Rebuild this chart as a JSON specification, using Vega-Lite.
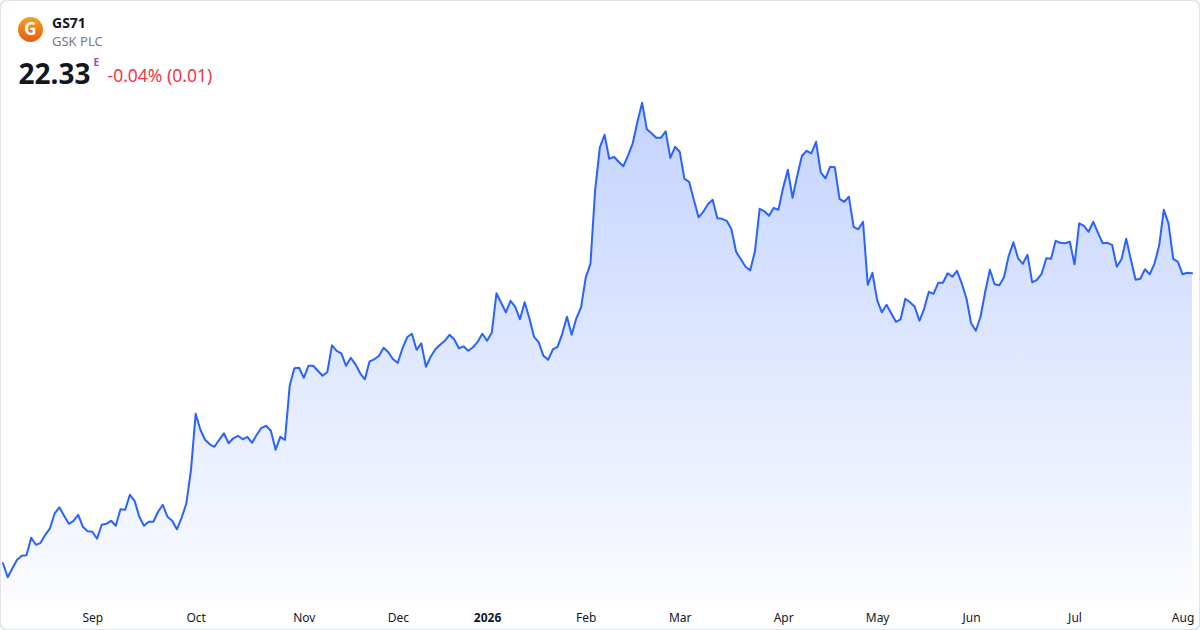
{
"$schema": "https://vega.github.io/schema/vega-lite/v6.json",
"width": 1200, "height": 630,
"autosize": {"type": "none"},
"padding": 0,
"background": "#ffffff",
"config": {"view": {"stroke": "#e0e3eb", "strokeWidth": 2, "cornerRadius": 8}, "font": "Noto Sans"},
"title": {"text": "GS71", "subtitle": "GSK PLC", "anchor": "start", "frame": "group", "orient": "top", "offset": -49, "dx": 52,
  "font": "Noto Sans", "fontSize": 14, "fontWeight": "bold", "color": "#131722",
  "subtitleFont": "Noto Sans", "subtitleFontSize": 13, "subtitleColor": "#787b86", "subtitlePadding": 5},
"data": {"values": [
{"date":"2025-08-05","close":16.53},{"date":"2025-08-06","close":16.25},{"date":"2025-08-07","close":16.43},{"date":"2025-08-08","close":16.60},
{"date":"2025-08-11","close":16.68},{"date":"2025-08-12","close":16.69},{"date":"2025-08-13","close":17.04},{"date":"2025-08-14","close":16.90},{"date":"2025-08-15","close":16.94},
{"date":"2025-08-18","close":17.10},{"date":"2025-08-19","close":17.23},{"date":"2025-08-20","close":17.53},{"date":"2025-08-21","close":17.65},{"date":"2025-08-22","close":17.48},
{"date":"2025-08-25","close":17.32},{"date":"2025-08-26","close":17.38},{"date":"2025-08-27","close":17.50},{"date":"2025-08-28","close":17.26},{"date":"2025-08-29","close":17.17},
{"date":"2025-09-01","close":17.16},{"date":"2025-09-02","close":17.02},{"date":"2025-09-03","close":17.30},{"date":"2025-09-04","close":17.32},{"date":"2025-09-05","close":17.38},
{"date":"2025-09-08","close":17.28},{"date":"2025-09-09","close":17.61},{"date":"2025-09-10","close":17.60},{"date":"2025-09-11","close":17.90},{"date":"2025-09-12","close":17.78},
{"date":"2025-09-15","close":17.46},{"date":"2025-09-16","close":17.28},{"date":"2025-09-17","close":17.36},{"date":"2025-09-18","close":17.36},{"date":"2025-09-19","close":17.56},
{"date":"2025-09-22","close":17.70},{"date":"2025-09-23","close":17.46},{"date":"2025-09-24","close":17.38},{"date":"2025-09-25","close":17.21},{"date":"2025-09-26","close":17.44},
{"date":"2025-09-29","close":17.72},{"date":"2025-09-30","close":18.40},
{"date":"2025-10-01","close":19.52},{"date":"2025-10-02","close":19.20},{"date":"2025-10-03","close":19.00},
{"date":"2025-10-06","close":18.91},{"date":"2025-10-07","close":18.86},{"date":"2025-10-08","close":19.00},{"date":"2025-10-09","close":19.13},{"date":"2025-10-10","close":18.93},
{"date":"2025-10-13","close":19.03},{"date":"2025-10-14","close":19.08},{"date":"2025-10-15","close":19.01},{"date":"2025-10-16","close":19.06},{"date":"2025-10-17","close":18.94},
{"date":"2025-10-20","close":19.10},{"date":"2025-10-21","close":19.24},{"date":"2025-10-22","close":19.28},{"date":"2025-10-23","close":19.18},{"date":"2025-10-24","close":18.80},
{"date":"2025-10-27","close":19.06},{"date":"2025-10-28","close":19.00},{"date":"2025-10-29","close":20.08},{"date":"2025-10-30","close":20.43},{"date":"2025-10-31","close":20.44},
{"date":"2025-11-03","close":20.24},{"date":"2025-11-04","close":20.48},{"date":"2025-11-05","close":20.48},{"date":"2025-11-06","close":20.38},{"date":"2025-11-07","close":20.28},
{"date":"2025-11-10","close":20.35},{"date":"2025-11-11","close":20.89},{"date":"2025-11-12","close":20.78},{"date":"2025-11-13","close":20.73},{"date":"2025-11-14","close":20.48},
{"date":"2025-11-17","close":20.64},{"date":"2025-11-18","close":20.51},{"date":"2025-11-19","close":20.33},{"date":"2025-11-20","close":20.21},{"date":"2025-11-21","close":20.57},
{"date":"2025-11-24","close":20.61},{"date":"2025-11-25","close":20.68},{"date":"2025-11-26","close":20.84},{"date":"2025-11-27","close":20.75},{"date":"2025-11-28","close":20.61},
{"date":"2025-12-01","close":20.54},{"date":"2025-12-02","close":20.83},{"date":"2025-12-03","close":21.05},{"date":"2025-12-04","close":21.12},{"date":"2025-12-05","close":20.80},
{"date":"2025-12-08","close":20.93},{"date":"2025-12-09","close":20.46},{"date":"2025-12-10","close":20.66},{"date":"2025-12-11","close":20.81},{"date":"2025-12-12","close":20.90},
{"date":"2025-12-15","close":20.98},{"date":"2025-12-16","close":21.10},{"date":"2025-12-17","close":21.01},{"date":"2025-12-18","close":20.83},{"date":"2025-12-19","close":20.87},
{"date":"2025-12-22","close":20.78},{"date":"2025-12-23","close":20.85},{"date":"2025-12-29","close":20.96},{"date":"2025-12-30","close":21.12},
{"date":"2026-01-02","close":20.98},
{"date":"2026-01-05","close":21.14},{"date":"2026-01-06","close":21.93},{"date":"2026-01-07","close":21.74},{"date":"2026-01-08","close":21.55},{"date":"2026-01-09","close":21.78},
{"date":"2026-01-12","close":21.66},{"date":"2026-01-13","close":21.41},{"date":"2026-01-14","close":21.75},{"date":"2026-01-15","close":21.43},{"date":"2026-01-16","close":21.06},
{"date":"2026-01-19","close":20.95},{"date":"2026-01-20","close":20.68},{"date":"2026-01-21","close":20.60},{"date":"2026-01-22","close":20.81},{"date":"2026-01-23","close":20.86},
{"date":"2026-01-26","close":21.12},{"date":"2026-01-27","close":21.46},{"date":"2026-01-28","close":21.10},{"date":"2026-01-29","close":21.43},{"date":"2026-01-30","close":21.65},
{"date":"2026-02-02","close":22.25},{"date":"2026-02-03","close":22.52},{"date":"2026-02-04","close":24.00},{"date":"2026-02-05","close":24.85},{"date":"2026-02-06","close":25.10},
{"date":"2026-02-09","close":24.62},{"date":"2026-02-10","close":24.66},{"date":"2026-02-11","close":24.56},{"date":"2026-02-12","close":24.47},{"date":"2026-02-13","close":24.69},
{"date":"2026-02-16","close":24.93},{"date":"2026-02-17","close":25.36},{"date":"2026-02-18","close":25.74},{"date":"2026-02-19","close":25.21},{"date":"2026-02-20","close":25.13},
{"date":"2026-02-23","close":25.04},{"date":"2026-02-24","close":25.04},{"date":"2026-02-25","close":25.17},{"date":"2026-02-26","close":24.64},{"date":"2026-02-27","close":24.86},
{"date":"2026-03-02","close":24.76},{"date":"2026-03-03","close":24.22},{"date":"2026-03-04","close":24.16},{"date":"2026-03-05","close":23.80},{"date":"2026-03-06","close":23.45},
{"date":"2026-03-09","close":23.56},{"date":"2026-03-10","close":23.71},{"date":"2026-03-11","close":23.80},{"date":"2026-03-12","close":23.43},{"date":"2026-03-13","close":23.42},
{"date":"2026-03-16","close":23.38},{"date":"2026-03-17","close":23.21},{"date":"2026-03-18","close":22.76},{"date":"2026-03-19","close":22.61},{"date":"2026-03-20","close":22.46},
{"date":"2026-03-23","close":22.39},{"date":"2026-03-24","close":22.77},{"date":"2026-03-25","close":23.62},{"date":"2026-03-26","close":23.57},{"date":"2026-03-27","close":23.48},
{"date":"2026-03-30","close":23.64},{"date":"2026-03-31","close":23.60},
{"date":"2026-04-01","close":24.04},{"date":"2026-04-02","close":24.40},
{"date":"2026-04-07","close":23.84},{"date":"2026-04-08","close":24.28},{"date":"2026-04-09","close":24.68},{"date":"2026-04-10","close":24.78},
{"date":"2026-04-13","close":24.73},{"date":"2026-04-14","close":24.96},{"date":"2026-04-15","close":24.35},{"date":"2026-04-16","close":24.23},{"date":"2026-04-17","close":24.46},
{"date":"2026-04-20","close":24.45},{"date":"2026-04-21","close":23.82},{"date":"2026-04-22","close":23.76},{"date":"2026-04-23","close":23.86},{"date":"2026-04-24","close":23.26},
{"date":"2026-04-27","close":23.21},{"date":"2026-04-28","close":23.36},{"date":"2026-04-29","close":22.10},{"date":"2026-04-30","close":22.34},
{"date":"2026-05-04","close":21.80},{"date":"2026-05-05","close":21.55},{"date":"2026-05-06","close":21.70},{"date":"2026-05-07","close":21.53},{"date":"2026-05-08","close":21.36},
{"date":"2026-05-11","close":21.41},{"date":"2026-05-12","close":21.82},{"date":"2026-05-13","close":21.75},{"date":"2026-05-14","close":21.66},{"date":"2026-05-15","close":21.38},
{"date":"2026-05-18","close":21.62},{"date":"2026-05-19","close":21.96},{"date":"2026-05-20","close":21.92},{"date":"2026-05-21","close":22.14},{"date":"2026-05-22","close":22.14},
{"date":"2026-05-25","close":22.33},{"date":"2026-05-26","close":22.26},{"date":"2026-05-27","close":22.38},{"date":"2026-05-28","close":22.13},{"date":"2026-05-29","close":21.83},
{"date":"2026-06-01","close":21.33},{"date":"2026-06-02","close":21.18},{"date":"2026-06-03","close":21.46},{"date":"2026-06-04","close":21.96},{"date":"2026-06-05","close":22.40},
{"date":"2026-06-08","close":22.11},{"date":"2026-06-09","close":22.09},{"date":"2026-06-10","close":22.25},{"date":"2026-06-11","close":22.68},{"date":"2026-06-12","close":22.95},
{"date":"2026-06-15","close":22.63},{"date":"2026-06-16","close":22.52},{"date":"2026-06-17","close":22.70},{"date":"2026-06-18","close":22.15},{"date":"2026-06-19","close":22.20},
{"date":"2026-06-22","close":22.32},{"date":"2026-06-23","close":22.63},{"date":"2026-06-24","close":22.62},{"date":"2026-06-25","close":22.98},{"date":"2026-06-26","close":22.94},
{"date":"2026-06-29","close":22.93},{"date":"2026-06-30","close":22.96},
{"date":"2026-07-01","close":22.51},{"date":"2026-07-02","close":23.33},{"date":"2026-07-03","close":23.28},
{"date":"2026-07-06","close":23.16},{"date":"2026-07-07","close":23.36},{"date":"2026-07-08","close":23.14},{"date":"2026-07-09","close":22.93},{"date":"2026-07-10","close":22.94},
{"date":"2026-07-13","close":22.90},{"date":"2026-07-14","close":22.46},{"date":"2026-07-15","close":22.61},{"date":"2026-07-16","close":23.02},{"date":"2026-07-17","close":22.60},
{"date":"2026-07-20","close":22.20},{"date":"2026-07-21","close":22.22},{"date":"2026-07-22","close":22.41},{"date":"2026-07-23","close":22.31},{"date":"2026-07-24","close":22.52},
{"date":"2026-07-27","close":22.88},{"date":"2026-07-28","close":23.60},{"date":"2026-07-29","close":23.33},{"date":"2026-07-30","close":22.62},{"date":"2026-07-31","close":22.56},
{"date":"2026-08-03","close":22.31},{"date":"2026-08-04","close":22.34},{"date":"2026-08-05","close":22.33}
]},
"encoding": {
  "x": {"field": "date", "type": "ordinal",
    "scale": {"type": "point", "range": [3, 1192], "padding": 0},
    "axis": {
      "values": ["2025-09-01","2025-10-01","2025-11-03","2025-12-01","2026-01-02","2026-02-02","2026-03-02","2026-04-01","2026-05-04","2026-06-01","2026-07-01","2026-08-03"],
      "labelExpr": "datum.value == '2026-01-02' ? '2026' : utcFormat(toDate(datum.value), '%b')",
      "labelFontWeight": {"condition": {"test": "datum.value == '2026-01-02'", "value": "bold"}, "value": "normal"},
      "labelAngle": 0, "labelFontSize": 12, "labelColor": "#131722", "labelFont": "Noto Sans", "labelPadding": 12,
      "ticks": false, "domain": false, "grid": false, "offset": -30,
      "title": "-0.04% (0.01)", "titleX": 107, "titleY": -519, "titleAlign": "left", "titleBaseline": "alphabetic",
      "titleFont": "Noto Sans", "titleFontSize": 17.5, "titleFontWeight": "normal", "titleColor": "#f23645"
    }
  }
},
"layer": [
  {
    "mark": {"type": "area", "line": false,
      "color": {"x1": 0, "y1": 0, "x2": 0, "y2": 1, "gradient": "linear",
        "stops": [{"offset": 0, "color": "rgba(41,98,255,0.28)"}, {"offset": 1, "color": "rgba(41,98,255,0.02)"}]}},
    "encoding": {
      "y": {"field": "close", "type": "quantitative",
        "scale": {"domain": [15.196, 27.796], "nice": false, "zero": false},
        "axis": {"orient": "left", "labels": false, "ticks": false, "domain": false, "grid": false,
          "title": "22.33", "titleAngle": 0, "titleAlign": "left", "titleBaseline": "alphabetic",
          "titleX": 18, "titleY": 83, "titleFont": "Noto Sans", "titleFontSize": 28, "titleFontWeight": "bold", "titleColor": "#131722"}},
      "y2": {"datum": 15.796}
    }
  },
  {
    "mark": {"type": "line", "strokeWidth": 2, "strokeJoin": "round", "strokeCap": "round"},
    "encoding": {
      "y": {"field": "close", "type": "quantitative",
        "axis": {"orient": "right", "labels": false, "ticks": false, "domain": false, "grid": false,
          "title": "E", "titleAngle": 0, "titleAlign": "left", "titleBaseline": "alphabetic",
          "titleX": -1107, "titleY": 65, "titleFont": "Noto Sans", "titleFontSize": 10.5, "titleFontWeight": "bold", "titleColor": "#ab47bc"}},
      "stroke": {"datum": "GS71", "scale": {"range": ["#2962ff"]},
        "legend": {"orient": "none", "legendX": 18, "legendY": 17, "title": null, "padding": 0,
          "symbolType": "circle", "symbolSize": 625, "symbolStrokeWidth": 0,
          "labelExpr": "'G'", "labelAlign": "center", "labelOffset": -12.5, "labelColor": "#ffffff",
          "labelFont": "Noto Sans", "labelFontWeight": "bold", "labelFontSize": 17, "labelBaseline": "middle",
          "encode": {"symbols": {"update": {"fill": {"value": {"gradient": "linear", "x1": 0, "y1": 0, "x2": 0, "y2": 1, "stops": [{"offset": 0, "color": "#f7a01c"}, {"offset": 1, "color": "#e55a16"}]}}, "stroke": {"value": "#ee7b1e"}, "opacity": {"value": 1}}}}}}
    }
  }
],
"resolve": {"axis": {"y": "independent"}}
}
